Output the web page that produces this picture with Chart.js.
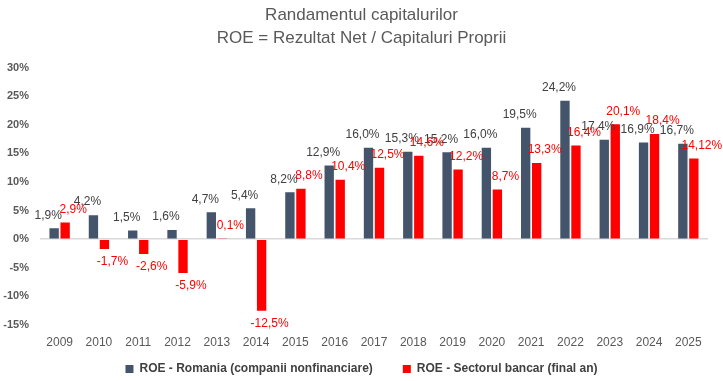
<!DOCTYPE html>
<html>
<head>
<meta charset="utf-8">
<script src="https://cdn.jsdelivr.net/npm/chart.js@4"></script>
<style>
  html, body { margin: 0; padding: 0; background: #fff; }
  #wrap { width: 723px; height: 381px; }
</style>
</head>
<body>
<div id="wrap"><canvas id="roeChart"></canvas></div>
<script>
// date
const years = ['2009','2010','2011','2012','2013','2014','2015','2016','2017','2018','2019','2020','2021','2022','2023','2024','2025'];
const roeRomania = [1.9, 4.2, 1.5, 1.6, 4.7, 5.4, 8.2, 12.9, 16.0, 15.3, 15.2, 16.0, 19.5, 24.2, 17.4, 16.9, 16.7];
const roeBancar = [2.9, -1.7, -2.6, -5.9, 0.1, -12.5, 8.8, 10.4, 12.5, 14.6, 12.2, 8.7, 13.3, 16.4, 20.1, 18.4, 14.12];
const yTicks = [-15, -10, -5, 0, 5, 10, 15, 20, 25, 30];

const FONT = "'Liberation Sans', Arial, sans-serif";

function fmt(v) {
  const oneDec = Math.abs(v * 10 - Math.round(v * 10)) < 1e-6;
  return (oneDec ? v.toFixed(1) : v.toFixed(2)).replace('.', ',') + '%';
}

// etichete de valoare deasupra / sub bare
const valueLabels = {
  id: 'valueLabels',
  afterDatasetsDraw(chart) {
    const ctx = chart.ctx;
    ctx.save();
    ctx.font = '12px ' + FONT;
    ctx.textAlign = 'center';
    ctx.textBaseline = 'middle';
    chart.data.datasets.forEach((ds, di) => {
      const meta = chart.getDatasetMeta(di);
      const dx = di === 0 ? -6 : 8;
      ctx.fillStyle = ds.labelColor;
      meta.data.forEach((bar, i) => {
        const v = ds.data[i];
        const y = v >= 0 ? bar.y - 13 : bar.y + 13;
        ctx.fillText(fmt(v), bar.x + dx, y);
      });
    });
    ctx.restore();
  }
};

const ctx = document.getElementById('roeChart');
new Chart(ctx, {
  type: 'bar',
  data: {
    labels: years,
    datasets: [
      {
        label: 'ROE - Romania (companii nonfinanciare)',
        data: roeRomania,
        backgroundColor: '#44546A',
        labelColor: '#404040',
        categoryPercentage: 0.56,
        barPercentage: 0.85
      },
      {
        label: 'ROE - Sectorul bancar (final an)',
        data: roeBancar,
        backgroundColor: '#FF0000',
        labelColor: '#FF0000',
        categoryPercentage: 0.56,
        barPercentage: 0.85
      }
    ]
  },
  options: {
    responsive: true,
    maintainAspectRatio: false,
    animation: false,
    layout: { padding: { left: 0, right: 0, top: 3, bottom: -4 } },
    plugins: {
      title: {
        display: true,
        text: ['Randamentul capitalurilor', 'ROE = Rezultat Net / Capitaluri Proprii'],
        color: '#595959',
        font: { size: 17, family: FONT, weight: 'normal', lineHeight: 1.4 },
        padding: { top: 0, bottom: 17 }
      },
      legend: {
        position: 'bottom',
        labels: {
          color: '#404040',
          boxWidth: 8,
          boxHeight: 8,
          padding: 0,
          font: { size: 12, weight: 'bold', family: FONT },
          // spatiu mai mare intre cele doua elemente ale legendei
          generateLabels: chart => {
            const items = Chart.defaults.plugins.legend.labels.generateLabels(chart);
            items.forEach((it, i) => {
              if (i < items.length - 1) it.text += '         ';
            });
            return items;
          }
        }
      },
      tooltip: { enabled: false }
    },
    scales: {
      x: {
        grid: { display: false, drawTicks: false },
        border: { display: false },
        afterFit: scale => { scale.height = 38; },
        ticks: { color: '#595959', font: { size: 12, family: FONT }, padding: 10 }
      },
      y: {
        min: -15,
        max: 30,
        afterFit: scale => { scale.width = 40; },
        afterBuildTicks: scale => { scale.ticks = yTicks.map(v => ({ value: v })); },
        border: { display: false },
        grid: {
          drawTicks: false,
          color: c => (c.tick && c.tick.value === 0 ? '#D9D9D9' : 'transparent'),
          lineWidth: 1.5
        },
        ticks: {
          color: '#595959',
          padding: 11,
          font: { size: 11, weight: 'bold', family: FONT },
          callback: v => v + '%'
        }
      },
      // axa goala in dreapta, doar pentru margine
      yRight: {
        position: 'right',
        afterFit: scale => { scale.width = 15; },
        grid: { display: false, drawTicks: false },
        border: { display: false },
        ticks: { display: false }
      }
    }
  },
  plugins: [valueLabels]
});
</script>
</body>
</html>
